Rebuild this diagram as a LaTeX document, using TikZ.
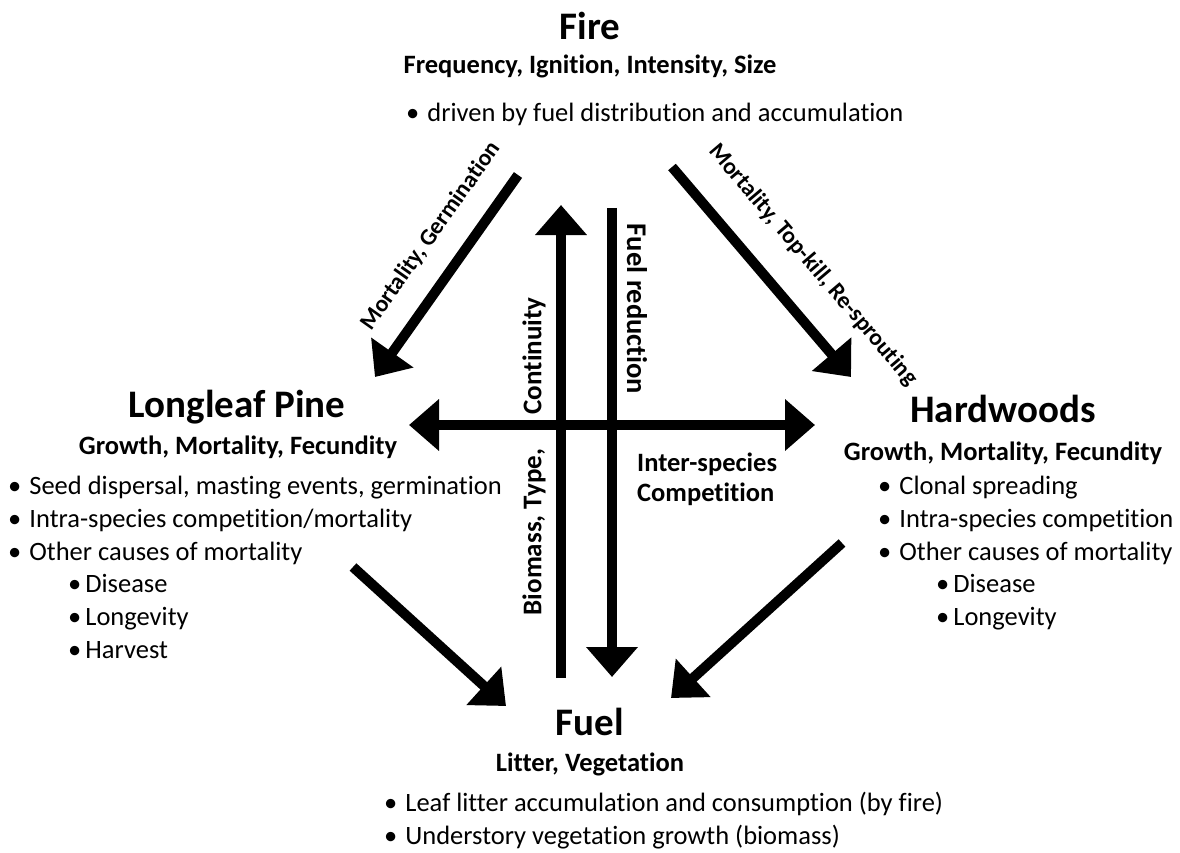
\documentclass[tikz,border=0pt]{standalone}
\usepackage{fontspec}
\setmainfont{Carlito}[Ligatures=NoCommon]
\usetikzlibrary{arrows.meta}

\begin{document}
\begin{tikzpicture}[
        x=1pt, y=-1pt,
        big arrow/.style={line width=10pt, -{Triangle[length=30pt, width=50pt]}},
        both arrow/.style={line width=10pt, {Triangle[length=30pt, width=50pt]}-{Triangle[length=30pt, width=50pt]}},
        title/.style={font=\fontsize{39}{44}\selectfont\bfseries, inner sep=0pt, anchor=base},
        subtitle/.style={font=\fontsize{26.5}{30}\selectfont\bfseries, inner sep=0pt, anchor=base},
        items/.style={font=\fontsize{26.5}{32.7}\selectfont, align=left, inner sep=0pt, anchor=north west},
        arrow label/.style={font=\fontsize{23.5}{27}\selectfont\bfseries, inner sep=0pt},
        axis label/.style={font=\fontsize{27}{30}\selectfont\bfseries, inner sep=0pt}
      ]
      \useasboundingbox (0,0) rectangle (1180,853);

      % headings
      \node[title] (fire) at (590,40) {Fire};
      \node[subtitle] (firesub) at (590,74) {Frequency, Ignition, Intensity, Size};
      \node[title] (pine) at (237,417) {Longleaf Pine};
      \node[subtitle] (pinesub) at (238,454) {Growth, Mortality, Fecundity};
      \node[title] (hard) at (1003,422) {Hardwoods};
      \node[subtitle] (hardsub) at (1003,460) {Growth, Mortality, Fecundity};
      \node[title] (fuel) at (590,735) {Fuel};
      \node[subtitle] (fuelsub) at (590,771) {Litter, Vegetation};

      % bullet lists
      \node[items] (fireitems) at (406,103) {\textbullet\hspace{8pt}driven by fuel distribution and accumulation};
      \node[items] (pineitems) at (8,476) {\textbullet\hspace{8pt}Seed dispersal, masting events, germination\\
        \textbullet\hspace{8pt}Intra-species competition/mortality\\
        \textbullet\hspace{8pt}Other causes of mortality\\
        \hspace*{60pt}\textbullet\hspace{4pt}Disease\\
        \hspace*{60pt}\textbullet\hspace{4pt}Longevity\\
        \hspace*{60pt}\textbullet\hspace{4pt}Harvest};
      \node[items] (harditems) at (878,476) {\textbullet\hspace{8pt}Clonal spreading\\
        \textbullet\hspace{8pt}Intra-species competition\\
        \textbullet\hspace{8pt}Other causes of mortality\\
        \hspace*{58pt}\textbullet\hspace{4pt}Disease\\
        \hspace*{58pt}\textbullet\hspace{4pt}Longevity};
      \node[items] (fuelitems) at (384,792) {\textbullet\hspace{8pt}Leaf litter accumulation and consumption (by fire)\\
        \textbullet\hspace{8pt}Understory vegetation growth (biomass)};

      % arrow ends
      \coordinate (fp1) at (518,175);
      \coordinate (fp2) at (375,377);
      \coordinate (fh1) at (672,167);
      \coordinate (fh2) at (851,377);
      \coordinate (up1) at (561,678);
      \coordinate (up2) at (561,205);
      \coordinate (dn1) at (612,208);
      \coordinate (dn2) at (612,677);
      \coordinate (ph1) at (409,425);
      \coordinate (ph2) at (815,425);
      \coordinate (pf1) at (353,567);
      \coordinate (pf2) at (506,706);
      \coordinate (hf1) at (842,543);
      \coordinate (hf2) at (671,698);

      \draw[big arrow] (fp1) -- (fp2);
      \draw[big arrow] (fh1) -- (fh2);
      \draw[big arrow] (up1) -- (up2);
      \draw[big arrow] (dn1) -- (dn2);
      \draw[both arrow] (ph1) -- (ph2);
      \draw[big arrow] (pf1) -- (pf2);
      \draw[big arrow] (hf1) -- (hf2);

      % arrow labels
      \node[arrow label, rotate=54.7] (pinelab) at (431,236) {Mortality, Germination};
      \node[arrow label, rotate=-49.6] (hardlab) at (813,265) {Mortality, Top-kill, Re-sprouting};
      \node[axis label, rotate=90] (contlab) at (534,356) {Continuity};
      \node[axis label, rotate=90] (biolab) at (534,532) {Biomass, Type,};
      \node[axis label, rotate=-90, font=\fontsize{28.5}{32}\selectfont\bfseries] (redlab) at (637,309) {Fuel reduction};
      \node[axis label, align=left, anchor=north west, font=\fontsize{26.5}{30}\selectfont\bfseries] (complab) at (637,453) {Inter-species\\Competition};
\end{tikzpicture}
\end{document}
